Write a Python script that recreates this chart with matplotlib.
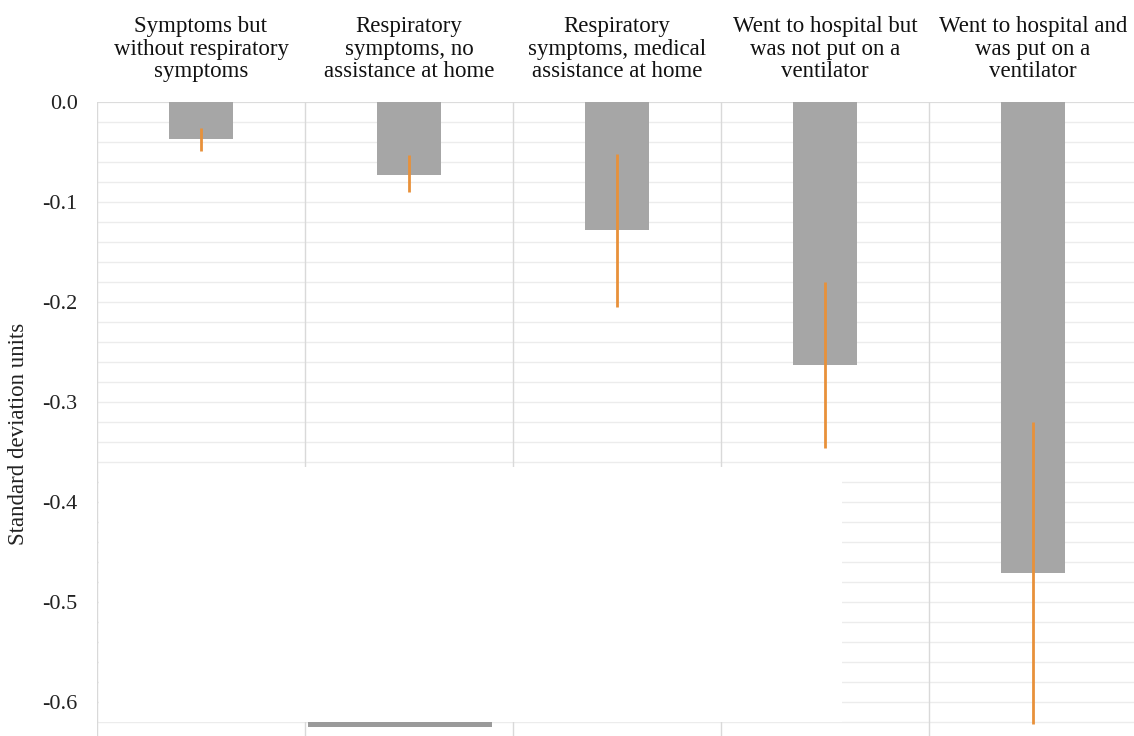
import matplotlib
matplotlib.use("Agg")
import matplotlib.pyplot as plt
from matplotlib.patches import Rectangle
import numpy as np

categories = [
    "Symptoms but\nwithout respiratory\nsymptoms",
    "Respiratory\nsymptoms, no\nassistance at home",
    "Respiratory\nsymptoms, medical\nassistance at home",
    "Went to hospital but\nwas not put on a\nventilator",
    "Went to hospital and\nwas put on a\nventilator",
]
values = [-0.037, -0.073, -0.128, -0.263, -0.471]
ci_upper = [-0.026, -0.053, -0.052, -0.180, -0.320]
ci_lower = [-0.049, -0.090, -0.205, -0.346, -0.622]
yticks = [0.0, -0.1, -0.2, -0.3, -0.4, -0.5, -0.6]
ytick_labels = ["0.0", "-0.1", "-0.2", "-0.3", "-0.4", "-0.5", "-0.6"]

W, H = 1134, 736
fig = plt.figure(figsize=(W / 100, H / 100), dpi=100)
plt.rcParams['font.family'] = ['Liberation Serif', 'DejaVu Serif']

left, right, top = 97, 1137, 102
ax = fig.add_axes([left / W, 0, (right - left) / W, 1 - top / H])
ax.set_ylim(-0.634, 0)
ax.set_xlim(-0.5, len(categories) - 0.5)

x = np.arange(len(categories))
# grid
for yv in np.arange(0, -0.64, -0.02):
    ax.axhline(yv, color="#ececec", lw=1.0, zorder=0)
ax.axhline(0, color="#d9d9d9", lw=1.2, zorder=1)
for xb in np.arange(-0.5, len(categories), 1.0):
    ax.axvline(xb, color="#d9d9d9", lw=1.0, zorder=0)

ax.bar(x, values, width=0.31, color="#a6a6a6", zorder=2)
vals = np.array(values)
yerr = np.vstack([vals - np.array(ci_lower), np.array(ci_upper) - vals])
ax.errorbar(x, values, yerr=yerr, fmt="none", ecolor="#e8913a", elinewidth=2, capsize=0, zorder=3)

for s in ax.spines.values():
    s.set_visible(False)
ax.set_xticks([])
ax.set_yticks(yticks)
ax.set_yticklabels(ytick_labels, fontsize=16, color="#222222")
ax.tick_params(axis="y", length=0, pad=14)

for xi, lab in zip(x, categories):
    ax.text(xi, 0.025, lab, ha="center", va="baseline", fontsize=16.5,
            linespacing=1.08, color="#111111", transform=ax.transData, clip_on=False)

fig.text(19 / W, 1 - 434 / H, "Standard deviation units", rotation=90,
         ha="center", va="center", fontsize=16.5, color="#222222")

# occluding artifacts present in the reference image
fig.patches.append(Rectangle((99 / W, 1 - 722 / H), (842 - 99) / W, (722 - 467) / H,
                             transform=fig.transFigure, facecolor="white", edgecolor="none", zorder=10))
fig.patches.append(Rectangle((308 / W, 1 - 727 / H), (492 - 308) / W, 5 / H,
                             transform=fig.transFigure, facecolor="#9a9a9a", edgecolor="none", zorder=11))

fig.savefig("out.png", dpi=100, facecolor="white")
